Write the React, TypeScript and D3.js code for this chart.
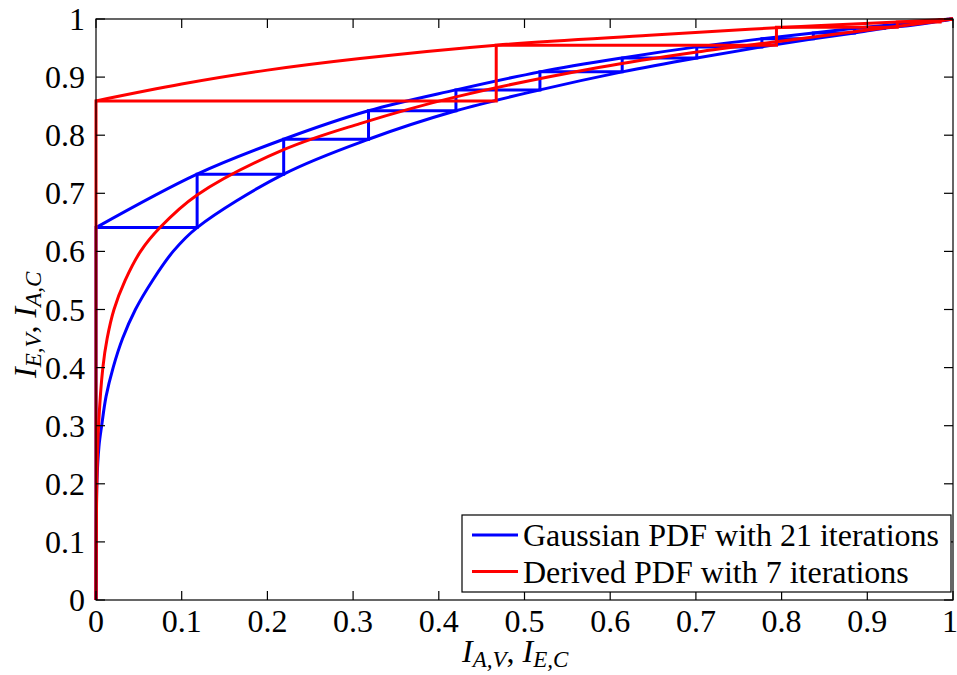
import * as d3 from 'd3';

// EXIT curves (x = a priori info, y = extrinsic info)
const blueUpperX = [0, 0.118, 0.219, 0.318, 0.42, 0.518, 0.614, 0.701, 0.777, 0.837, 0.885, 0.92, 0.95, 0.975, 1];
const blueUpperY = [0.641, 0.733, 0.793, 0.842, 0.878, 0.909, 0.933, 0.952, 0.966, 0.976, 0.984, 0.989, 0.993, 0.997, 1];

const blueLowerX = [0, 0.0004, 0.001, 0.0035, 0.0066, 0.0117, 0.02, 0.031, 0.046, 0.066, 0.09, 0.118, 0.219, 0.318, 0.42, 0.518, 0.614, 0.701, 0.777, 0.837, 0.885, 0.92, 0.95, 0.975, 1];
const blueLowerY = [0, 0.1, 0.2, 0.265, 0.3, 0.35, 0.4, 0.45, 0.5, 0.55, 0.6, 0.641, 0.733, 0.793, 0.842, 0.878, 0.909, 0.933, 0.952, 0.966, 0.976, 0.984, 0.989, 0.994, 1];

const redMidX = [0, 0.0003, 0.001, 0.003, 0.008, 0.013, 0.021, 0.034, 0.052, 0.0747, 0.118, 0.219, 0.308, 0.42, 0.588, 0.7, 0.794, 0.88, 0.95, 1];
const redMidY = [0, 0.1, 0.2, 0.3, 0.4, 0.45, 0.5, 0.55, 0.6, 0.641, 0.697, 0.775, 0.82, 0.866, 0.917, 0.943, 0.961, 0.977, 0.99, 1];

const redUpperX = [0, 0.1, 0.2, 0.308, 0.467, 0.646, 0.794, 0.935, 1];
const redUpperY = [0.859, 0.888, 0.912, 0.932, 0.955, 0.972, 0.985, 0.995, 1];

// decoding trajectories: column positions and the level reached at each
const blueStepX = [0, 0.118, 0.219, 0.318, 0.42, 0.518, 0.614, 0.701, 0.777, 0.837, 0.885, 0.92, 0.945, 0.962, 0.975, 0.984, 0.99, 0.994, 0.997, 0.999, 1];
const blueStepY = [0.641, 0.733, 0.793, 0.842, 0.878, 0.909, 0.933, 0.952, 0.966, 0.976, 0.984, 0.989, 0.993, 0.995, 0.997, 0.998, 0.999, 0.9995, 1, 1, 1];

const redStepX = [0, 0.467, 0.794, 0.935, 0.985, 0.998, 1];
const redStepY = [0.859, 0.955, 0.986, 0.995, 0.999, 1, 1];

const ticks = [0, 0.1, 0.2, 0.3, 0.4, 0.5, 0.6, 0.7, 0.8, 0.9, 1];

const legendItems = [
  { label: 'Gaussian PDF with 21 iterations', color: '#0000ff' },
  { label: 'Derived PDF with 7 iterations', color: '#ff0000' }
];

const W = 957;
const H = 675;
const FONT = '"Liberation Serif", "DejaVu Serif", serif';

function zip(xs: number[], ys: number[]): [number, number][] {
  return xs.map((x, i) => [x, ys[i]]);
}

function staircase(xs: number[], ys: number[]): [number, number][] {
  const pts: [number, number][] = [[xs[0], 0]];
  xs.forEach((x, i) => {
    if (i > 0) pts.push([x, ys[i - 1]]);
    pts.push([x, ys[i]]);
  });
  return pts;
}

export default function App() {
  const x = d3.scaleLinear().domain([0, 1]).range([96, 953]);
  const y = d3.scaleLinear().domain([0, 1]).range([600, 19]);

  const smooth = d3
    .line<[number, number]>()
    .x((d) => x(d[0]))
    .y((d) => y(d[1]))
    .curve(d3.curveCatmullRom.alpha(0.5));
  const straight = d3
    .line<[number, number]>()
    .x((d) => x(d[0]))
    .y((d) => y(d[1]));

  const [x0, x1] = x.range();
  const [y0, y1] = y.range();
  const tickLen = 9;

  return (
    <svg width={W} height={H} style={{ position: 'absolute', left: 0, top: 0, background: '#fff' }} fontFamily={FONT}>
      <rect x={0} y={0} width={W} height={H} fill="#fff" />

      <g fill="none" strokeWidth={3} strokeLinejoin="round">
        <path d={smooth(zip(blueUpperX, blueUpperY)) || ''} stroke="#0000ff" />
        <path d={smooth(zip(blueLowerX, blueLowerY)) || ''} stroke="#0000ff" />
        <path d={straight(staircase(blueStepX, blueStepY)) || ''} stroke="#0000ff" strokeLinejoin="miter" />
        <path d={smooth(zip(redMidX, redMidY)) || ''} stroke="#ff0000" />
        <path d={smooth(zip(redUpperX, redUpperY)) || ''} stroke="#ff0000" />
        <path d={straight(staircase(redStepX, redStepY)) || ''} stroke="#ff0000" strokeLinejoin="miter" />
      </g>

      {/* box and ticks */}
      <rect x={x0} y={y1} width={x1 - x0} height={y0 - y1} fill="none" stroke="#000" strokeWidth={1.2} />
      <g stroke="#000" strokeWidth={1.2}>
        {ticks.map((t) => (
          <g key={`t${t}`}>
            <line x1={x(t)} x2={x(t)} y1={y0} y2={y0 - tickLen} />
            <line x1={x(t)} x2={x(t)} y1={y1} y2={y1 + tickLen} />
            <line x1={x0} x2={x0 + tickLen} y1={y(t)} y2={y(t)} />
            <line x1={x1} x2={x1 - tickLen} y1={y(t)} y2={y(t)} />
          </g>
        ))}
      </g>
      <g fontSize={32} fill="#000">
        {ticks.map((t) => (
          <text key={`xl${t}`} x={t === 1 ? x(t) - 3 : x(t)} y={632} textAnchor="middle">
            {String(t)}
          </text>
        ))}
        {ticks.map((t) => (
          <text key={`yl${t}`} x={85} y={y(t) + 11} textAnchor="end">
            {String(t)}
          </text>
        ))}
      </g>

      {/* axis titles */}
      <text x={462} y={662} fontSize={32} fontStyle="italic">
        I<tspan fontSize={23} dy={5}>A,V</tspan>
        <tspan fontStyle="normal" dy={-5}>, </tspan>I<tspan fontSize={23} dy={5}>E,C</tspan>
      </text>
      <text transform="translate(36,378) rotate(-90)" fontSize={32} fontStyle="italic">
        I<tspan fontSize={23} dy={5}>E,V</tspan>
        <tspan fontStyle="normal" dy={-5}>, </tspan>I<tspan fontSize={23} dy={5}>A,C</tspan>
      </text>

      {/* legend */}
      <rect x={462} y={515} width={489} height={77} fill="#fff" stroke="#000" strokeWidth={1.2} />
      {legendItems.map((item, i) => (
        <g key={item.label}>
          <line x1={472} x2={518} y1={535 + i * 36.5} y2={535 + i * 36.5} stroke={item.color} strokeWidth={3} />
          <text x={523} y={546 + i * 36.5} fontSize={32}>
            {item.label}
          </text>
        </g>
      ))}
    </svg>
  );
}
